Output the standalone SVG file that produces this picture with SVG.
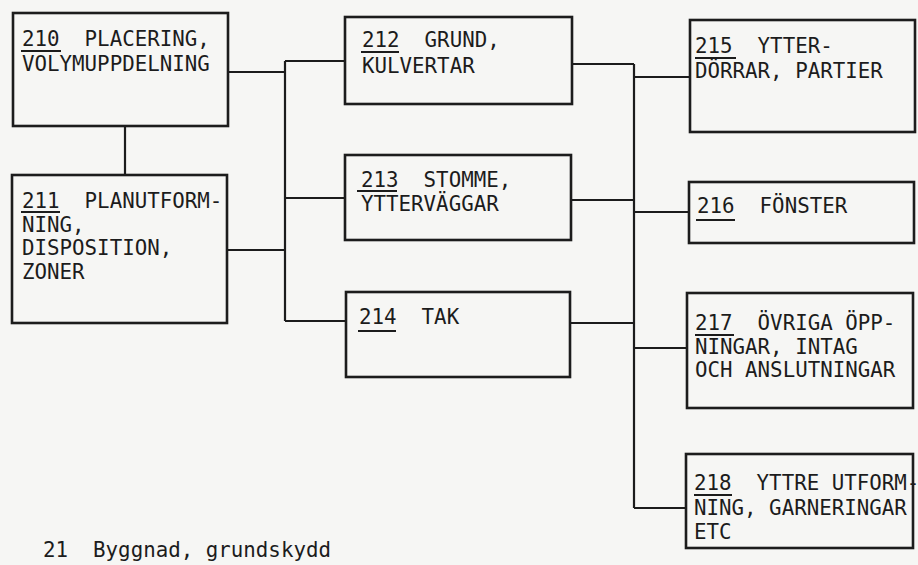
<svg xmlns="http://www.w3.org/2000/svg" width="918" height="565" viewBox="0 0 918 565">
<style>
.box{fill:none;stroke:#1c1c1c;stroke-width:2.6}
.ln{fill:none;stroke:#1c1c1c;stroke-width:2.2}
.ul{stroke:#1c1c1c;stroke-width:1.8}
text{font-family:"DejaVu Sans Mono","Liberation Mono",monospace;font-size:20.8px;fill:#1c1c1c;white-space:pre}
</style>
<rect width="918" height="565" fill="#f6f6f4"/>
<g id="connectors">
<path class="ln" d="M125 126V175"/>
<path class="ln" d="M285 61V321"/>
<path class="ln" d="M228 72H285M227 250H285M285 61H345M285 198H345M285 321H346"/>
<path class="ln" d="M572 64H634M571 200H634M570 323H634"/>
<path class="ln" d="M634 64V508"/>
<path class="ln" d="M634 77H690M634 212H689M634 348H687M634 508H686"/>
</g>
<g id="n210">
<rect class="box" x="13" y="13" width="215" height="113"/>
<text x="22" y="46">210  PLACERING,</text>
<text x="22" y="71">VOLYMUPPDELNING</text>
<line class="ul" x1="21" y1="51" x2="61" y2="51"/>
</g>
<g id="n211">
<rect class="box" x="12" y="175" width="215" height="148"/>
<text x="22" y="208">211  PLANUTFORM-</text>
<text x="22" y="232">NING,</text>
<text x="22" y="255">DISPOSITION,</text>
<text x="22" y="279">ZONER</text>
<line class="ul" x1="21" y1="212" x2="60" y2="212"/>
</g>
<g id="n212">
<rect class="box" x="345" y="17" width="227" height="87"/>
<text x="362" y="47">212  GRUND,</text>
<text x="362" y="73">KULVERTAR</text>
<line class="ul" x1="361" y1="52" x2="399" y2="52"/>
</g>
<g id="n213">
<rect class="box" x="345" y="155" width="226" height="85"/>
<text x="361" y="187">213  STOMME,</text>
<text x="361" y="211">YTTERVÄGGAR</text>
<line class="ul" x1="357" y1="191" x2="397" y2="191"/>
</g>
<g id="n214">
<rect class="box" x="346" y="292" width="224" height="85"/>
<text x="359" y="324">214  TAK</text>
<line class="ul" x1="358" y1="331" x2="396" y2="331"/>
</g>
<g id="n215">
<rect class="box" x="690" y="20" width="225" height="112"/>
<text x="695" y="53">215  YTTER-</text>
<text x="695" y="78">DÖRRAR, PARTIER</text>
<line class="ul" x1="695" y1="58" x2="736" y2="58"/>
</g>
<g id="n216">
<rect class="box" x="689" y="182" width="225" height="61"/>
<text x="697" y="213">216  FÖNSTER</text>
<line class="ul" x1="696" y1="220" x2="735" y2="220"/>
</g>
<g id="n217">
<rect class="box" x="687" y="293" width="226" height="115"/>
<text x="695" y="330">217  ÖVRIGA ÖPP-</text>
<text x="695" y="354">NINGAR, INTAG</text>
<text x="695" y="377">OCH ANSLUTNINGAR</text>
<line class="ul" x1="695" y1="335" x2="734" y2="335"/>
</g>
<g id="n218">
<rect class="box" x="686" y="454" width="227" height="94"/>
<text x="694" y="490">218  YTTRE UTFORM-</text>
<text x="694" y="515">NING, GARNERINGAR</text>
<text x="694" y="539">ETC</text>
<line class="ul" x1="694" y1="495" x2="732" y2="495"/>
</g>
<text id="caption" x="43" y="557">21  Byggnad, grundskydd</text>
</svg>
